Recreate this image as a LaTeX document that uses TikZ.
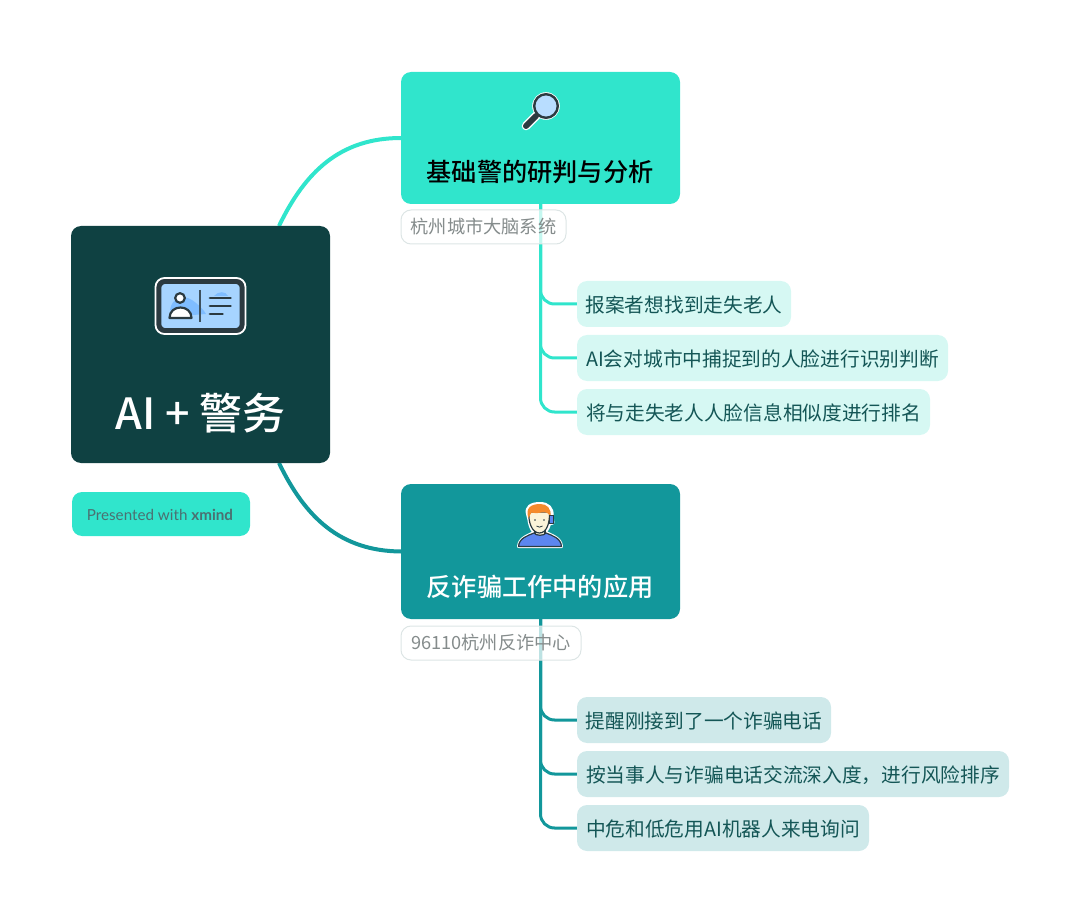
\documentclass[tikz,border=0pt]{standalone}
\usepackage{fontspec}
\setmainfont{Noto Sans CJK SC}[BoldFont={Noto Sans CJK SC Medium}]
\newfontfamily\latinf{Lato}
\definecolor{centralc}{HTML}{0F4142}
\definecolor{tealA}{HTML}{30E5CC}
\definecolor{tealB}{HTML}{12979B}
\definecolor{subA}{HTML}{D6F8F3}
\definecolor{subB}{HTML}{CFE9EA}
\definecolor{subtext}{HTML}{145656}
\definecolor{labeltext}{HTML}{858C8C}
\definecolor{labelline}{HTML}{DDE5E5}
\definecolor{icondark}{HTML}{2B3A40}
\definecolor{iconblue}{HTML}{A6D4FF}
\definecolor{iconblue2}{HTML}{7FBDFF}
\definecolor{hairc}{HTML}{F58A2C}
\definecolor{skinc}{HTML}{FBF3D9}
\definecolor{shirtc}{HTML}{5C86F0}
\pgfdeclarelayer{back}
\pgfsetlayers{back,main}
\tikzset{
  x=1pt,y=-1pt,
  box/.style={anchor=north west,inner sep=0pt,outer sep=0pt,rounded corners=#1},
  topicbox/.style={box=10pt,minimum width=279pt},
  topictext/.style={inner sep=0pt,font=\fontsize{25.2}{30}\selectfont\bfseries},
  subbox/.style={box=10pt,minimum height=46pt,text=subtext,font=\fontsize{19.7}{24}\selectfont,align=left,text depth=0pt},
  subboxA/.style={subbox,fill=subA},
  subboxB/.style={subbox,fill=subB},
  labelbox/.style={box=10pt,minimum height=34pt,draw=labelline,line width=1pt,fill=white,fill opacity=.72,text opacity=1,text=labeltext,font=\fontsize{18.2}{22}\selectfont},
  linkA/.style={draw=tealA,line width=4pt},
  linkB/.style={draw=tealB,line width=4pt},
  twigA/.style={draw=tealA,line width=3pt,rounded corners=14pt},
  twigB/.style={draw=tealB,line width=3pt,rounded corners=14pt},
}
\begin{document}
\begin{tikzpicture}
\useasboundingbox (0,0) rectangle (1080,920);
% central
\node[box=10pt,fill=centralc,minimum width=259pt,minimum height=237pt] (central) at (71,226) {};
\node[inner sep=0pt,text=white,font=\fontsize{43}{50}\selectfont\bfseries] (ctitle) at (200.5,413) {AI + 警务};
% badge
\node[box=10pt,fill=tealA,minimum width=178pt,minimum height=44pt] (badge) at (72,492) {};
\node[inner sep=0pt,text=centralc!75!white,font=\fontsize{15.2}{18}\latinf] (badgetext) at (160,515) {Presented with \textbf{xmind}};
% topics
\node[topicbox,fill=tealA,minimum height=132pt] (t1) at (401,72) {};
\node[topictext,text=black] (t1text) at (540,172) {基础警的研判与分析};
\node[topicbox,fill=tealB,minimum height=135pt] (t2) at (401,484) {};
\node[topictext,text=white] (t2text) at (540,587) {反诈骗工作中的应用};
% labels
\node[labelbox,minimum width=165pt] (l1) at (401,210) {杭州城市大脑系统};
\node[labelbox,minimum width=180pt] (l2) at (401,626) {96110杭州反诈中心};
% subtopics
\node[subboxA,minimum width=214pt] (a1) at (577,281) {报案者想找到走失老人};
\node[subboxA,minimum width=371pt] (a2) at (577,335) {AI会对城市中捕捉到的人脸进行识别判断};
\node[subboxA,minimum width=353pt] (a3) at (577,389) {将与走失老人人脸信息相似度进行排名};
\node[subboxB,minimum width=254pt] (b1) at (577,697) {提醒刚接到了一个诈骗电话};
\node[subboxB,minimum width=432pt] (b2) at (577,751) {按当事人与诈骗电话交流深入度，进行风险排序};
\node[subboxB,minimum width=292pt] (b3) at (577,805) {中危和低危用AI机器人来电询问};
% connectors
\begin{pgfonlayer}{back}
\draw[linkA] ([xshift=-51pt]central.north east) .. controls (305,172) and (340,138) .. (t1.west);
\draw[linkB] ([xshift=-51pt]central.south east) .. controls (305,517) and (340,551) .. (t2.west);
\foreach \n in {a1,a2,a3} \draw[twigA] (t1.south) |- (\n.west);
\foreach \n in {b1,b2,b3} \draw[twigB] (t2.south) |- (\n.west);
\end{pgfonlayer}
% ID card icon
\draw[draw=white,line width=1.8pt,fill=icondark,rounded corners=9pt] (155.5,278) rectangle (245.5,334);
\draw[draw=icondark,line width=3.6pt,fill=iconblue,rounded corners=6pt] (159.5,282) rectangle (241.5,330);
\fill[iconblue2] (170,310) .. controls (172,298) and (182,294) .. (192,300) .. controls (198,304) and (204,310) .. (206,314) -- (180,316) -- cycle;
\fill[iconblue2] (214,296) .. controls (218,291) and (226,291) .. (228,296) -- cycle;
\draw[icondark,line width=2.2pt,fill=white] (180,298) circle (4.8pt);
\draw[icondark,line width=2.2pt,fill=white,line join=round] (169.5,318) .. controls (169.5,304) and (191.5,304) .. (191.5,318) -- cycle;
\draw[icondark!85!iconblue,line width=1.2pt] (200,290) -- (200,322);
\draw[icondark,line width=2.8pt,line cap=round] (210,298) -- (230.5,298) (210,306) -- (230.5,306) (210,314) -- (222.5,314);
% magnifier icon
\draw[white,line width=8.5pt,line cap=round] (537,115) -- (526,126);
\fill[white] (546,106) circle (13.8pt);
\draw[icondark,line width=6pt,line cap=round] (536,116) -- (526,126);
\draw[icondark,line width=2.4pt,fill=iconblue!80!white] (546,106) circle (11.8pt);
% agent icon
\draw[white,line width=3pt,fill=white,line join=round] (518.5,546.5) .. controls (519,538) and (528,535.5) .. (535,532) -- (545,532) .. controls (552,535.5) and (561,538) .. (561.5,546.5) -- cycle;
\draw[white,line width=3pt,fill=white,line join=round] (527.5,514) .. controls (525.5,507) and (531,503.5) .. (540,503.5) .. controls (548,503.5) and (553,508) .. (552,516) -- (553,523) -- (549.5,524) .. controls (548,530) and (544,535) .. (539.5,535) .. controls (534,535) and (530,528) .. (529,520) -- cycle;
\draw[icondark,line width=1.2pt,fill=skinc] (535,526) rectangle (545,537);
\draw[icondark,line width=1.2pt,fill=shirtc,line join=round] (518.5,546.5) .. controls (519,538) and (528,535.5) .. (534,533) .. controls (536,536) and (544,536) .. (546,533) .. controls (552,535.5) and (561,538) .. (561.5,546.5) -- cycle;
\draw[icondark,line width=1.2pt,fill=skinc] (529,512) .. controls (528,522) and (532,533) .. (539.5,533) .. controls (547,533) and (550,522) .. (549.5,512) -- cycle;
\fill[hairc] (528.5,518) .. controls (525,508) and (531,504) .. (540,504) .. controls (547,504) and (551.5,508) .. (550.5,517) .. controls (549,513) and (546,511.5) .. (541,512.5) .. controls (537,513.5) and (533,513) .. (531.5,512.5) .. controls (530.5,514) and (529.5,516) .. (528.5,518) -- cycle;
\fill[icondark] (535,520) circle (.9pt) (544,520) circle (.9pt);
\draw[icondark,line width=.8pt] (536.5,526) .. controls (538,527.5) and (541,527.5) .. (542.5,526);
\draw[icondark,line width=.9pt,fill=shirtc] (549.5,515) rectangle (553,523);
\end{tikzpicture}
\end{document}
